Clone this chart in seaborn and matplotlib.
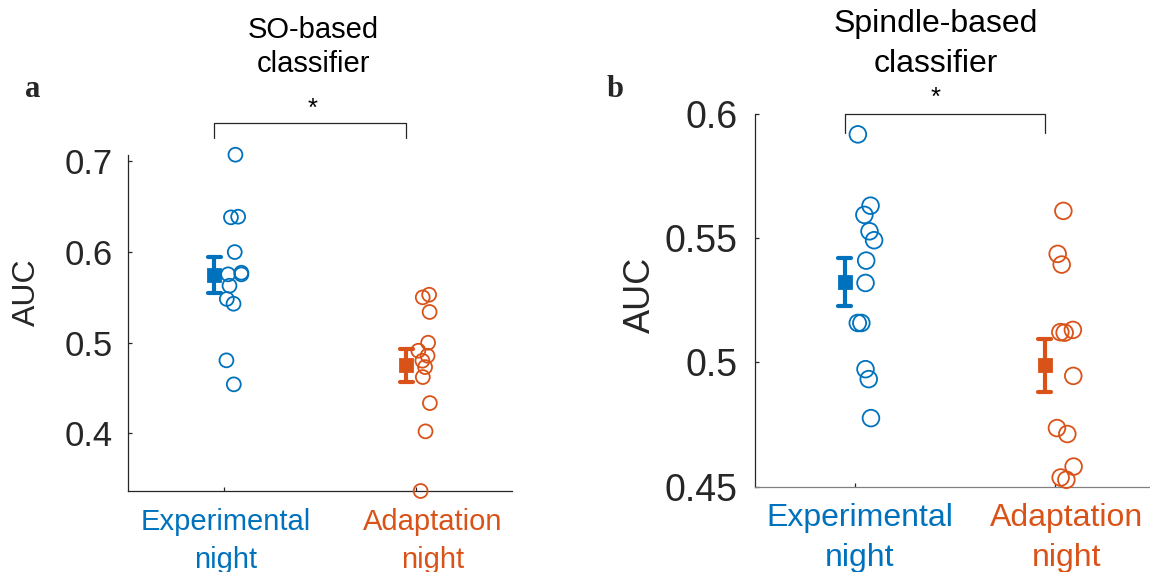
import numpy as np
import pandas as pd
import matplotlib
matplotlib.use("Agg")
import matplotlib.pyplot as plt
import matplotlib.transforms as mtransforms
from matplotlib.ticker import FuncFormatter
import seaborn as sns

# ---------------- data ----------------
groups = ["Experimental\nnight", "Adaptation\nnight"]
so_experimental = [0.7066, 0.6384, 0.6377, 0.5995, 0.5768, 0.5750,
                   0.5750, 0.5625, 0.5479, 0.5427, 0.4804, 0.4540]
so_adaptation = [0.5526, 0.5497, 0.5336, 0.4998, 0.4910, 0.4855,
                 0.4800, 0.4730, 0.4620, 0.4334, 0.4023, 0.3367]
sp_experimental = [0.5918, 0.5631, 0.5594, 0.5528, 0.5492, 0.5410,
                   0.5320, 0.5159, 0.5159, 0.4973, 0.4933, 0.4776]
sp_adaptation = [0.5610, 0.5437, 0.5394, 0.5131, 0.5122, 0.5120,
                 0.4946, 0.4736, 0.4712, 0.4581, 0.4537, 0.4528]
so_yticks = [0.4, 0.5, 0.6, 0.7]
sp_yticks = [0.45, 0.5, 0.55, 0.6]
titles = ["SO-based\nclassifier", "Spindle-based\nclassifier"]
panel_letters = ["a", "b"]
significance = "*"
ylabel = "AUC"

colors = ["#0072BD", "#D95319"]

# ---------------- style ----------------
sns.set_style("white")
plt.rcParams["font.family"] = ["Liberation Sans", "DejaVu Sans"]

W, H = 1150, 572
fig = plt.figure(figsize=(W / 100, H / 100), dpi=100)

def px_rect(left, right, top, bottom):
    return [left / W, 1 - bottom / H, (right - left) / W, (bottom - top) / H]

panels = [
    dict(rect=px_rect(128, 512, 154.7, 491), exp=so_experimental, ada=so_adaptation,
         yticks=so_yticks, ylim=None, title=titles[0], letter=panel_letters[0],
         letter_xy=(25, 97), ylab_xy=(26.7, 292.5),
         fs_ytick=25, fs_ylab=23, fs_xtick=21, fs_title=21,
         ytick_pad=10.8, xtick_pad=12.2, xlab_dx=[2, 17], xlab_ls=1.47,
         title_xy=(0.483, 1.320), title_ls=1.31,
         bracket=(0.7411, 0.725), star_x=0.4635, star_off=10.5,
         msize=10.0, bottom_color="#262626", seed=3),
    dict(rect=px_rect(754.5, 1154.5, 114, 486.7), exp=sp_experimental, ada=sp_adaptation,
         yticks=sp_yticks, ylim=(0.45, 0.6), title=titles[1], letter=panel_letters[1],
         letter_xy=(607, 97), ylab_xy=(640, 295),
         fs_ytick=27, fs_ylab=26, fs_xtick=23, fs_title=23,
         ytick_pad=11.9, xtick_pad=11.9, xlab_dx=[5, 12], xlab_ls=1.44,
         title_xy=(0.453, 1.188), title_ls=1.47,
         bracket=(0.5998, 0.5922), star_x=0.405, star_off=11.8,
         msize=12.0, bottom_color="#808080", seed=7),
]

EB_SHIFT = -0.05     # error bar drawn left of category
PT_SHIFT = 0.055     # points drawn right of category
JITTER = 0.045

for p in panels:
    ax = fig.add_axes(p["rect"])
    df = pd.DataFrame({
        "group": [groups[0]] * len(p["exp"]) + [groups[1]] * len(p["ada"]),
        "auc": list(p["exp"]) + list(p["ada"]),
    })

    # individual subjects: open circles
    np.random.seed(p["seed"])
    n0 = len(ax.collections)
    sns.stripplot(data=df, x="group", y="auc", hue="group", palette=colors,
                  order=groups, hue_order=groups, jitter=JITTER,
                  size=p["msize"], linewidth=1.3, legend=False, ax=ax)
    for coll in ax.collections[n0:]:
        fc = coll.get_facecolors()
        coll.set_edgecolors(fc)
        coll.set_facecolors("none")
        coll.set_offset_transform(mtransforms.Affine2D().translate(PT_SHIFT, 0) + ax.transData)
        coll.set_clip_on(False)

    # mean +/- SEM
    nl = len(ax.lines)
    sns.pointplot(data=df, x="group", y="auc", hue="group", palette=colors,
                  order=groups, hue_order=groups, errorbar="se", capsize=0.069,
                  marker="s", markersize=9.0, linestyle="none",
                  err_kws={"linewidth": 3.0}, legend=False, ax=ax)
    shift = mtransforms.Affine2D().translate(EB_SHIFT, 0) + ax.transData
    for ln in ax.lines[nl:]:
        ln.set_transform(shift)

    # axes
    ax.set_xlim(-0.5, 1.5)
    if p["ylim"] is None:
        allv = df["auc"]
        ax.set_ylim(allv.min(), allv.max())
    else:
        ax.set_ylim(*p["ylim"])
    ax.set_yticks(p["yticks"])
    ax.yaxis.set_major_formatter(FuncFormatter(lambda v, pos: f"{v:g}"))
    ax.set_xticks([0, 1])
    ax.set_xticklabels(groups)
    ax.set_xlabel("")
    sns.despine(ax=ax)
    for sp in ["left", "bottom"]:
        ax.spines[sp].set_linewidth(0.9)
    ax.spines["left"].set_color("#262626")
    ax.spines["bottom"].set_color(p["bottom_color"])
    ax.tick_params(axis="y", direction="in", length=3, width=0.9, color="#262626",
                   labelsize=p["fs_ytick"], labelcolor="#262626", pad=p["ytick_pad"],
                   left=True)
    ax.tick_params(axis="x", direction="in", length=3, width=0.9, color="#262626",
                   labelsize=p["fs_xtick"], pad=p["xtick_pad"], bottom=True)
    for lab, c, dx in zip(ax.get_xticklabels(), colors, p["xlab_dx"]):
        lab.set_color(c)
        lab.set_linespacing(p["xlab_ls"])
        lab.set_transform(lab.get_transform() +
                          mtransforms.ScaledTranslation(dx / 100, 0, fig.dpi_scale_trans))

    ax.set_ylabel(ylabel, fontsize=p["fs_ylab"], color="#262626", va="center", ha="center")
    ax.yaxis.set_label_coords(p["ylab_xy"][0] / W, 1 - p["ylab_xy"][1] / H,
                              transform=fig.transFigure)

    ax.set_title(p["title"], fontsize=p["fs_title"], x=p["title_xy"][0], y=p["title_xy"][1],
                 pad=0, va="center", linespacing=p["title_ls"], color="black")

    # significance bracket between the two means
    yt, yb = p["bracket"]
    x0, x1 = 0 + EB_SHIFT, 1 + EB_SHIFT
    ax.plot([x0, x0, x1, x1], [yb, yt, yt, yb], color="#262626", lw=0.9,
            clip_on=False, solid_joinstyle="round")
    ax.annotate(significance, xy=(p["star_x"], yt), xytext=(0, p["star_off"]),
                textcoords="offset points", ha="center", va="center",
                fontsize=18.5, color="black", annotation_clip=False)

    fig.text(p["letter_xy"][0] / W, 1 - p["letter_xy"][1] / H, p["letter"],
             fontsize=22, fontweight="bold", ha="left", va="baseline",
             family=["Liberation Serif", "DejaVu Serif"])

fig.savefig("out.png", dpi=100)
